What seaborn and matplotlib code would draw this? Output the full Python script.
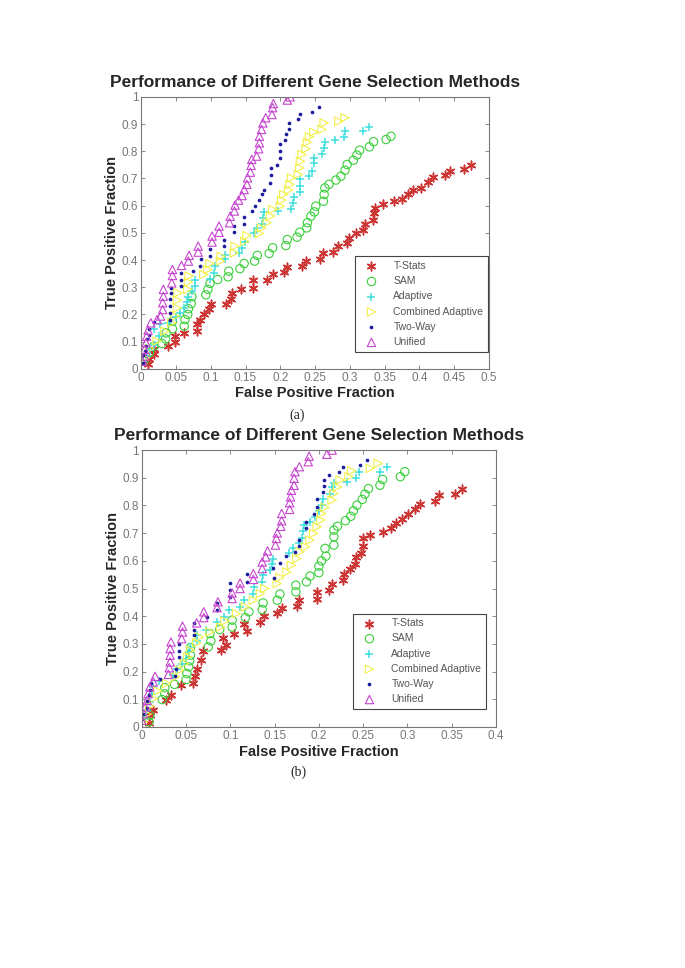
import numpy as np
import pandas as pd
import seaborn as sns
import matplotlib.pyplot as plt

# ---- panel (a) data: (false positive fraction, true positive fraction) ----
a_tstats_x = [0.010, 0.011, 0.019, 0.019, 0.039, 0.048, 0.049, 0.062, 0.080, 0.081, 0.085, 0.090, 0.098, 0.100,
              0.122, 0.129, 0.131, 0.143, 0.161, 0.161, 0.181, 0.189, 0.206, 0.210, 0.231, 0.237, 0.257, 0.261,
              0.276, 0.283, 0.296, 0.299, 0.309, 0.319, 0.321, 0.333, 0.334, 0.336, 0.347, 0.363, 0.375, 0.383,
              0.391, 0.402, 0.412, 0.420, 0.436, 0.444, 0.464, 0.474]
a_tstats_y = [0.016, 0.037, 0.053, 0.074, 0.083, 0.098, 0.120, 0.132, 0.138, 0.163, 0.181, 0.203, 0.221, 0.239,
              0.240, 0.257, 0.279, 0.294, 0.298, 0.326, 0.328, 0.347, 0.357, 0.375, 0.377, 0.396, 0.402, 0.424,
              0.429, 0.451, 0.461, 0.482, 0.498, 0.510, 0.534, 0.547, 0.571, 0.592, 0.607, 0.616, 0.625, 0.641,
              0.656, 0.665, 0.686, 0.706, 0.712, 0.727, 0.733, 0.748]

a_sam_x = [0.004, 0.012, 0.018, 0.030, 0.035, 0.036, 0.045, 0.045, 0.062, 0.063, 0.067, 0.068, 0.072, 0.073,
           0.093, 0.096, 0.099, 0.110, 0.125, 0.126, 0.142, 0.148, 0.163, 0.167, 0.184, 0.189, 0.208, 0.210,
           0.224, 0.228, 0.238, 0.239, 0.244, 0.249, 0.251, 0.262, 0.263, 0.264, 0.270, 0.280, 0.287, 0.293,
           0.296, 0.305, 0.310, 0.314, 0.328, 0.334, 0.352, 0.359]
a_sam_y = [0.028, 0.059, 0.083, 0.093, 0.110, 0.132, 0.147, 0.175, 0.157, 0.181, 0.200, 0.221, 0.240, 0.265,
           0.272, 0.292, 0.314, 0.328, 0.338, 0.359, 0.368, 0.387, 0.396, 0.417, 0.424, 0.445, 0.453, 0.475,
           0.484, 0.502, 0.518, 0.537, 0.561, 0.577, 0.598, 0.616, 0.641, 0.665, 0.678, 0.694, 0.708, 0.730,
           0.751, 0.767, 0.786, 0.804, 0.816, 0.835, 0.843, 0.855]

a_adapt_x = [0.003, 0.008, 0.013, 0.018, 0.018, 0.025, 0.027, 0.039, 0.050, 0.056, 0.061, 0.066, 0.067, 0.073,
             0.077, 0.077, 0.099, 0.105, 0.106, 0.121, 0.121, 0.141, 0.145, 0.149, 0.162, 0.166, 0.173, 0.175,
             0.177, 0.197, 0.215, 0.218, 0.220, 0.228, 0.229, 0.229, 0.241, 0.245, 0.248, 0.248, 0.260, 0.263,
             0.264, 0.278, 0.291, 0.293, 0.319, 0.328]
a_adapt_y = [0.028, 0.047, 0.069, 0.089, 0.145, 0.120, 0.163, 0.169, 0.191, 0.206, 0.224, 0.246, 0.265, 0.286,
             0.304, 0.328, 0.331, 0.353, 0.377, 0.402, 0.420, 0.426, 0.445, 0.466, 0.500, 0.518, 0.531, 0.553,
             0.577, 0.580, 0.589, 0.610, 0.632, 0.650, 0.672, 0.699, 0.708, 0.729, 0.755, 0.776, 0.788, 0.812,
             0.833, 0.843, 0.853, 0.874, 0.876, 0.890]

a_comb_x = [0.006, 0.012, 0.023, 0.034, 0.044, 0.049, 0.052, 0.052, 0.053, 0.067, 0.068, 0.069, 0.090, 0.096,
            0.099, 0.114, 0.115, 0.134, 0.135, 0.149, 0.152, 0.170, 0.173, 0.181, 0.186, 0.189, 0.200, 0.202,
            0.205, 0.212, 0.214, 0.216, 0.226, 0.228, 0.229, 0.231, 0.237, 0.239, 0.242, 0.248, 0.260, 0.263,
            0.284, 0.293]
a_comb_y = [0.040, 0.074, 0.102, 0.138, 0.169, 0.194, 0.224, 0.252, 0.279, 0.292, 0.319, 0.341, 0.347, 0.365,
            0.387, 0.396, 0.414, 0.426, 0.451, 0.469, 0.490, 0.498, 0.518, 0.537, 0.561, 0.586, 0.598, 0.620,
            0.641, 0.657, 0.678, 0.702, 0.714, 0.739, 0.763, 0.788, 0.809, 0.833, 0.853, 0.870, 0.880, 0.904,
            0.910, 0.923]

a_twoway_x = [0.002, 0.003, 0.006, 0.007, 0.008, 0.011, 0.012, 0.019, 0.042, 0.042, 0.042, 0.042, 0.043, 0.043,
              0.057, 0.057, 0.057, 0.075, 0.085, 0.086, 0.099, 0.099, 0.119, 0.119, 0.133, 0.133, 0.148, 0.148,
              0.159, 0.164, 0.169, 0.174, 0.176, 0.185, 0.186, 0.187, 0.195, 0.200, 0.200, 0.200, 0.207, 0.208,
              0.212, 0.213, 0.225, 0.228, 0.246, 0.255]
a_twoway_y = [0.020, 0.049, 0.065, 0.083, 0.108, 0.126, 0.147, 0.172, 0.181, 0.206, 0.230, 0.255, 0.279, 0.298,
              0.304, 0.328, 0.353, 0.359, 0.377, 0.402, 0.414, 0.439, 0.451, 0.475, 0.502, 0.525, 0.534, 0.559,
              0.580, 0.598, 0.620, 0.641, 0.659, 0.684, 0.711, 0.739, 0.751, 0.776, 0.800, 0.825, 0.841, 0.862,
              0.882, 0.904, 0.917, 0.938, 0.944, 0.962]

a_unified_x = [0.002, 0.005, 0.005, 0.007, 0.008, 0.010, 0.014, 0.023, 0.028, 0.031, 0.031, 0.032, 0.032, 0.044,
               0.045, 0.045, 0.058, 0.068, 0.069, 0.082, 0.082, 0.102, 0.102, 0.112, 0.112, 0.127, 0.128, 0.134,
               0.135, 0.140, 0.145, 0.148, 0.152, 0.153, 0.157, 0.158, 0.159, 0.166, 0.169, 0.170, 0.170, 0.173,
               0.175, 0.179, 0.188, 0.189, 0.190, 0.210, 0.214]
a_unified_y = [0.028, 0.047, 0.071, 0.096, 0.120, 0.142, 0.169, 0.181, 0.194, 0.218, 0.243, 0.267, 0.292, 0.316,
               0.343, 0.365, 0.380, 0.396, 0.417, 0.429, 0.451, 0.466, 0.488, 0.502, 0.525, 0.537, 0.561, 0.580,
               0.602, 0.620, 0.637, 0.659, 0.678, 0.702, 0.723, 0.748, 0.770, 0.782, 0.809, 0.831, 0.855, 0.880,
               0.904, 0.923, 0.935, 0.960, 0.975, 0.988, 1.000]

# ---- panel (b) data ----
b_tstats_x = [0.008, 0.009, 0.013, 0.027, 0.033, 0.044, 0.058, 0.060, 0.062, 0.067, 0.069, 0.089, 0.092, 0.095,
              0.104, 0.115, 0.119, 0.134, 0.138, 0.153, 0.158, 0.175, 0.178, 0.198, 0.198, 0.211, 0.215, 0.227,
              0.228, 0.235, 0.241, 0.242, 0.248, 0.250, 0.250, 0.258, 0.272, 0.281, 0.287, 0.294, 0.301, 0.309,
              0.314, 0.331, 0.336, 0.354, 0.362]
b_tstats_y = [0.014, 0.042, 0.060, 0.096, 0.114, 0.151, 0.159, 0.183, 0.211, 0.243, 0.275, 0.277, 0.322, 0.295,
              0.337, 0.371, 0.346, 0.380, 0.400, 0.410, 0.428, 0.437, 0.458, 0.461, 0.488, 0.496, 0.516, 0.530,
              0.554, 0.572, 0.588, 0.614, 0.627, 0.654, 0.681, 0.693, 0.705, 0.719, 0.735, 0.753, 0.771, 0.789,
              0.807, 0.817, 0.837, 0.843, 0.858]

b_sam_x = [0.008, 0.009, 0.023, 0.026, 0.026, 0.037, 0.050, 0.051, 0.053, 0.054, 0.055, 0.055, 0.075, 0.078,
           0.077, 0.088, 0.102, 0.102, 0.117, 0.121, 0.136, 0.137, 0.153, 0.156, 0.174, 0.174, 0.186, 0.190,
           0.200, 0.200, 0.203, 0.208, 0.207, 0.217, 0.217, 0.217, 0.221, 0.230, 0.236, 0.239, 0.243, 0.249,
           0.252, 0.256, 0.269, 0.272, 0.292, 0.297]
b_sam_y = [0.018, 0.042, 0.099, 0.120, 0.142, 0.154, 0.171, 0.193, 0.217, 0.239, 0.259, 0.287, 0.289, 0.311,
           0.337, 0.352, 0.361, 0.386, 0.395, 0.416, 0.424, 0.448, 0.458, 0.480, 0.488, 0.512, 0.524, 0.545,
           0.557, 0.581, 0.600, 0.617, 0.645, 0.657, 0.687, 0.711, 0.725, 0.745, 0.761, 0.781, 0.801, 0.822,
           0.841, 0.861, 0.873, 0.894, 0.904, 0.922]

b_adapt_x = [0.002, 0.006, 0.009, 0.011, 0.013, 0.019, 0.035, 0.040, 0.045, 0.050, 0.053, 0.055, 0.062, 0.062,
             0.073, 0.085, 0.093, 0.098, 0.111, 0.115, 0.126, 0.127, 0.136, 0.137, 0.145, 0.147, 0.148, 0.166,
             0.171, 0.177, 0.181, 0.182, 0.183, 0.190, 0.196, 0.200, 0.203, 0.205, 0.213, 0.215, 0.217, 0.232,
             0.242, 0.245, 0.269, 0.277]
b_adapt_y = [0.036, 0.060, 0.090, 0.120, 0.145, 0.165, 0.187, 0.211, 0.229, 0.247, 0.271, 0.289, 0.311, 0.331,
             0.349, 0.380, 0.398, 0.422, 0.434, 0.458, 0.482, 0.504, 0.524, 0.548, 0.566, 0.590, 0.608, 0.627,
             0.648, 0.665, 0.684, 0.707, 0.729, 0.741, 0.759, 0.780, 0.801, 0.822, 0.843, 0.867, 0.882, 0.886,
             0.901, 0.922, 0.922, 0.940]

b_comb_x = [0.002, 0.006, 0.009, 0.013, 0.018, 0.028, 0.038, 0.043, 0.048, 0.052, 0.055, 0.062, 0.065, 0.077,
            0.089, 0.094, 0.107, 0.117, 0.126, 0.134, 0.139, 0.153, 0.156, 0.164, 0.169, 0.175, 0.179, 0.185,
            0.190, 0.194, 0.198, 0.202, 0.203, 0.207, 0.215, 0.217, 0.221, 0.224, 0.234, 0.237, 0.258, 0.267]
b_comb_y = [0.018, 0.046, 0.075, 0.102, 0.130, 0.157, 0.181, 0.205, 0.229, 0.253, 0.277, 0.304, 0.325, 0.343,
            0.361, 0.383, 0.410, 0.434, 0.458, 0.482, 0.500, 0.518, 0.540, 0.560, 0.584, 0.608, 0.633, 0.651,
            0.675, 0.699, 0.723, 0.747, 0.771, 0.793, 0.819, 0.843, 0.867, 0.892, 0.904, 0.925, 0.934, 0.952]

b_twoway_x = [0.000, 0.001, 0.006, 0.006, 0.008, 0.009, 0.010, 0.020, 0.038, 0.039, 0.042, 0.042, 0.042, 0.059,
              0.059, 0.059, 0.074, 0.085, 0.085, 0.100, 0.100, 0.100, 0.119, 0.119, 0.149, 0.148, 0.156, 0.163,
              0.173, 0.177, 0.177, 0.185, 0.185, 0.194, 0.198, 0.198, 0.205, 0.206, 0.206, 0.212, 0.223, 0.227,
              0.247, 0.254]
b_twoway_y = [0.027, 0.048, 0.070, 0.094, 0.114, 0.133, 0.159, 0.175, 0.183, 0.211, 0.253, 0.275, 0.299, 0.331,
              0.352, 0.376, 0.398, 0.424, 0.448, 0.470, 0.494, 0.520, 0.524, 0.552, 0.539, 0.576, 0.593, 0.617,
              0.633, 0.653, 0.675, 0.717, 0.741, 0.771, 0.795, 0.822, 0.849, 0.870, 0.892, 0.910, 0.922, 0.940,
              0.946, 0.964]

b_unified_x = [0.000, 0.002, 0.004, 0.006, 0.007, 0.009, 0.013, 0.015, 0.030, 0.031, 0.032, 0.032, 0.032, 0.033,
               0.045, 0.046, 0.046, 0.062, 0.070, 0.070, 0.085, 0.086, 0.102, 0.102, 0.111, 0.111, 0.126, 0.126,
               0.136, 0.136, 0.140, 0.142, 0.151, 0.152, 0.153, 0.157, 0.158, 0.158, 0.167, 0.167, 0.168, 0.169,
               0.172, 0.172, 0.173, 0.178, 0.188, 0.189, 0.209, 0.215]
b_unified_y = [0.024, 0.048, 0.072, 0.096, 0.120, 0.145, 0.163, 0.183, 0.190, 0.214, 0.235, 0.259, 0.283, 0.307,
               0.319, 0.343, 0.364, 0.376, 0.395, 0.416, 0.431, 0.452, 0.464, 0.484, 0.500, 0.520, 0.533, 0.554,
               0.572, 0.596, 0.614, 0.636, 0.657, 0.681, 0.701, 0.725, 0.745, 0.771, 0.786, 0.810, 0.831, 0.855,
               0.873, 0.898, 0.922, 0.940, 0.958, 0.978, 0.985, 1.000]

methods = ["T-Stats", "SAM", "Adaptive", "Combined Adaptive", "Two-Way", "Unified"]
colors = ["#cc3333", "#3ccf3c", "#3fdede", "#f2f04a", "#1c1c9c", "#c645cf"]
markers = [(6, 2, 0), "o", "+", ">", "o", "^"]
hollow = [False, True, False, True, False, True]

panel_a = [(a_tstats_x, a_tstats_y), (a_sam_x, a_sam_y), (a_adapt_x, a_adapt_y),
           (a_comb_x, a_comb_y), (a_twoway_x, a_twoway_y), (a_unified_x, a_unified_y)]
panel_b = [(b_tstats_x, b_tstats_y), (b_sam_x, b_sam_y), (b_adapt_x, b_adapt_y),
           (b_comb_x, b_comb_y), (b_twoway_x, b_twoway_y), (b_unified_x, b_unified_y)]

sns.set_style("white")
plt.rcParams["font.family"] = ["Liberation Sans", "DejaVu Sans"]

fig = plt.figure(figsize=(6.85, 9.68), dpi=100)
ax_a = fig.add_axes([0.206, 0.619, 0.508, 0.281])
ax_b = fig.add_axes([0.207, 0.249, 0.517, 0.286])


def draw_panel(ax, series, xmax, legend_anchor):
    for i, ((xs, ys), name, c, m, h) in enumerate(zip(series, methods, colors, markers, hollow)):
        df = pd.DataFrame({"fpr": xs, "tpr": ys})
        kw = dict(x="fpr", y="tpr", data=df, ax=ax, marker=m, label=name, color=c)
        if h:
            sns.scatterplot(**kw, s=36, facecolor="none", edgecolor=c, linewidth=0.8)
        elif name == "Two-Way":
            sns.scatterplot(**kw, s=7, edgecolor=c, linewidth=0)
        else:
            sns.scatterplot(**kw, s=38, edgecolor=c, linewidth=1.1)
    ax.set_xlim(0, xmax)
    ax.set_ylim(0, 1)
    xt = np.round(np.arange(0, xmax + 1e-9, 0.05), 2)
    ax.set_xticks(xt)
    ax.set_xticklabels([f"{v:g}" for v in xt])
    yt = np.round(np.arange(0, 1.0001, 0.1), 1)
    ax.set_yticks(yt)
    ax.set_yticklabels([f"{v:g}" for v in yt])
    ax.tick_params(direction="in", length=3, width=0.6, colors="#777777", labelsize=8.5,
                   top=True, right=True, bottom=True, left=True, pad=2)
    for sp in ax.spines.values():
        sp.set_color("#777777")
        sp.set_linewidth(0.8)
    ax.set_title("Performance of Different Gene Selection Methods", fontsize=12.5,
                 fontweight="bold", pad=7)
    ax.set_xlabel("False Positive Fraction", fontsize=10.5, fontweight="bold", labelpad=2)
    ax.set_ylabel("True Positive Fraction", fontsize=10.5, fontweight="bold", labelpad=2)
    leg = ax.legend(loc="lower right", bbox_to_anchor=legend_anchor, borderaxespad=0,
                    fancybox=False, framealpha=1, edgecolor="#444444", fontsize=7.5,
                    scatterpoints=1, labelspacing=0.5, handletextpad=1.0, borderpad=0.45,
                    handlelength=2.2)
    leg.get_frame().set_linewidth(0.8)
    for t in leg.get_texts():
        t.set_color("#555555")


draw_panel(ax_a, panel_a, 0.5, (0.997, 0.0625))
draw_panel(ax_b, panel_b, 0.4, (0.972, 0.065))

fig.text(0.434, 1 - 415 / 968, "(a)", fontsize=10, family=["Liberation Serif", "DejaVu Serif"],
         ha="center", va="center")
fig.text(0.435, 1 - 772 / 968, "(b)", fontsize=10, family=["Liberation Serif", "DejaVu Serif"],
         ha="center", va="center")

fig.savefig("out.png", dpi=100, facecolor="white")
